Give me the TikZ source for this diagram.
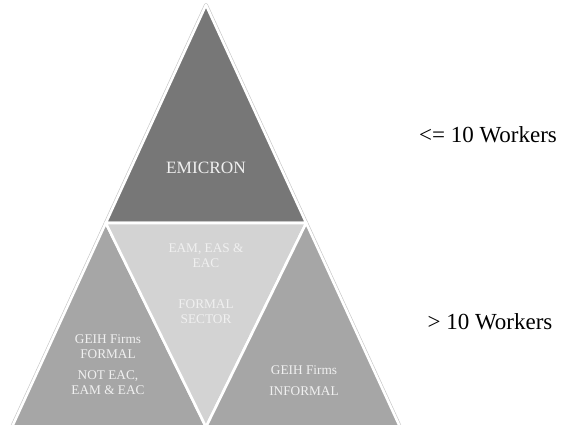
\documentclass[tikz,border=0pt]{standalone}
\usepackage{fontspec}
\setmainfont{Liberation Serif}
\definecolor{topgray}{HTML}{777777}
\definecolor{sidegray}{HTML}{A6A6A6}
\definecolor{midgray}{HTML}{D3D3D3}
\definecolor{txtlight}{HTML}{F0F0F0}
\begin{document}
\begin{tikzpicture}[x=1pt,y=-1pt,
  part/.style={draw=white, line width=2.6pt, line join=round},
  intext/.style={text=txtlight, align=center, inner sep=0pt, font=\fontsize{13.3}{15}\selectfont},
  sidelabel/.style={text=black, inner sep=0pt, font=\fontsize{23}{25}\selectfont}]
\useasboundingbox (0,0) rectangle (565,425);
\coordinate (A) at (206,5);
\coordinate (B) at (12,427);
\coordinate (C) at (400,427);
\coordinate (P) at (105.8,223);
\coordinate (Q) at (306.2,223);
\coordinate (M) at (206,427);
% outer faint edge
\draw[gray!45, line width=3.8pt, line join=round] (A) -- (B) -- (C) -- cycle;
% parts
\filldraw[part, fill=topgray] (A) -- (P) -- (Q) -- cycle;
\filldraw[part, fill=sidegray] (P) -- (B) -- (M) -- cycle;
\filldraw[part, fill=midgray] (P) -- (Q) -- (M) -- cycle;
\filldraw[part, fill=sidegray] (Q) -- (M) -- (C) -- cycle;
% texts
\node[intext, font=\fontsize{17.3}{19}\selectfont] (emicron) at (206,168) {EMICRON};
\node[intext] (eam) at (206,255.5) {EAM, EAS \&\\EAC};
\node[intext] (formal) at (206,311.5) {FORMAL\\SECTOR};
\node[intext] (leftA) at (108,347) {GEIH Firms\\FORMAL};
\node[intext] (leftB) at (108,382.5) {NOT EAC,\\EAM \& EAC};
\node[intext, font=\fontsize{13.3}{21}\selectfont] (rightA) at (304,380.5) {GEIH Firms\\INFORMAL};
\node[sidelabel] (small) at (488,135) {<= 10 Workers};
\node[sidelabel] (large) at (490,322) {> 10 Workers};
\end{tikzpicture}
\end{document}
